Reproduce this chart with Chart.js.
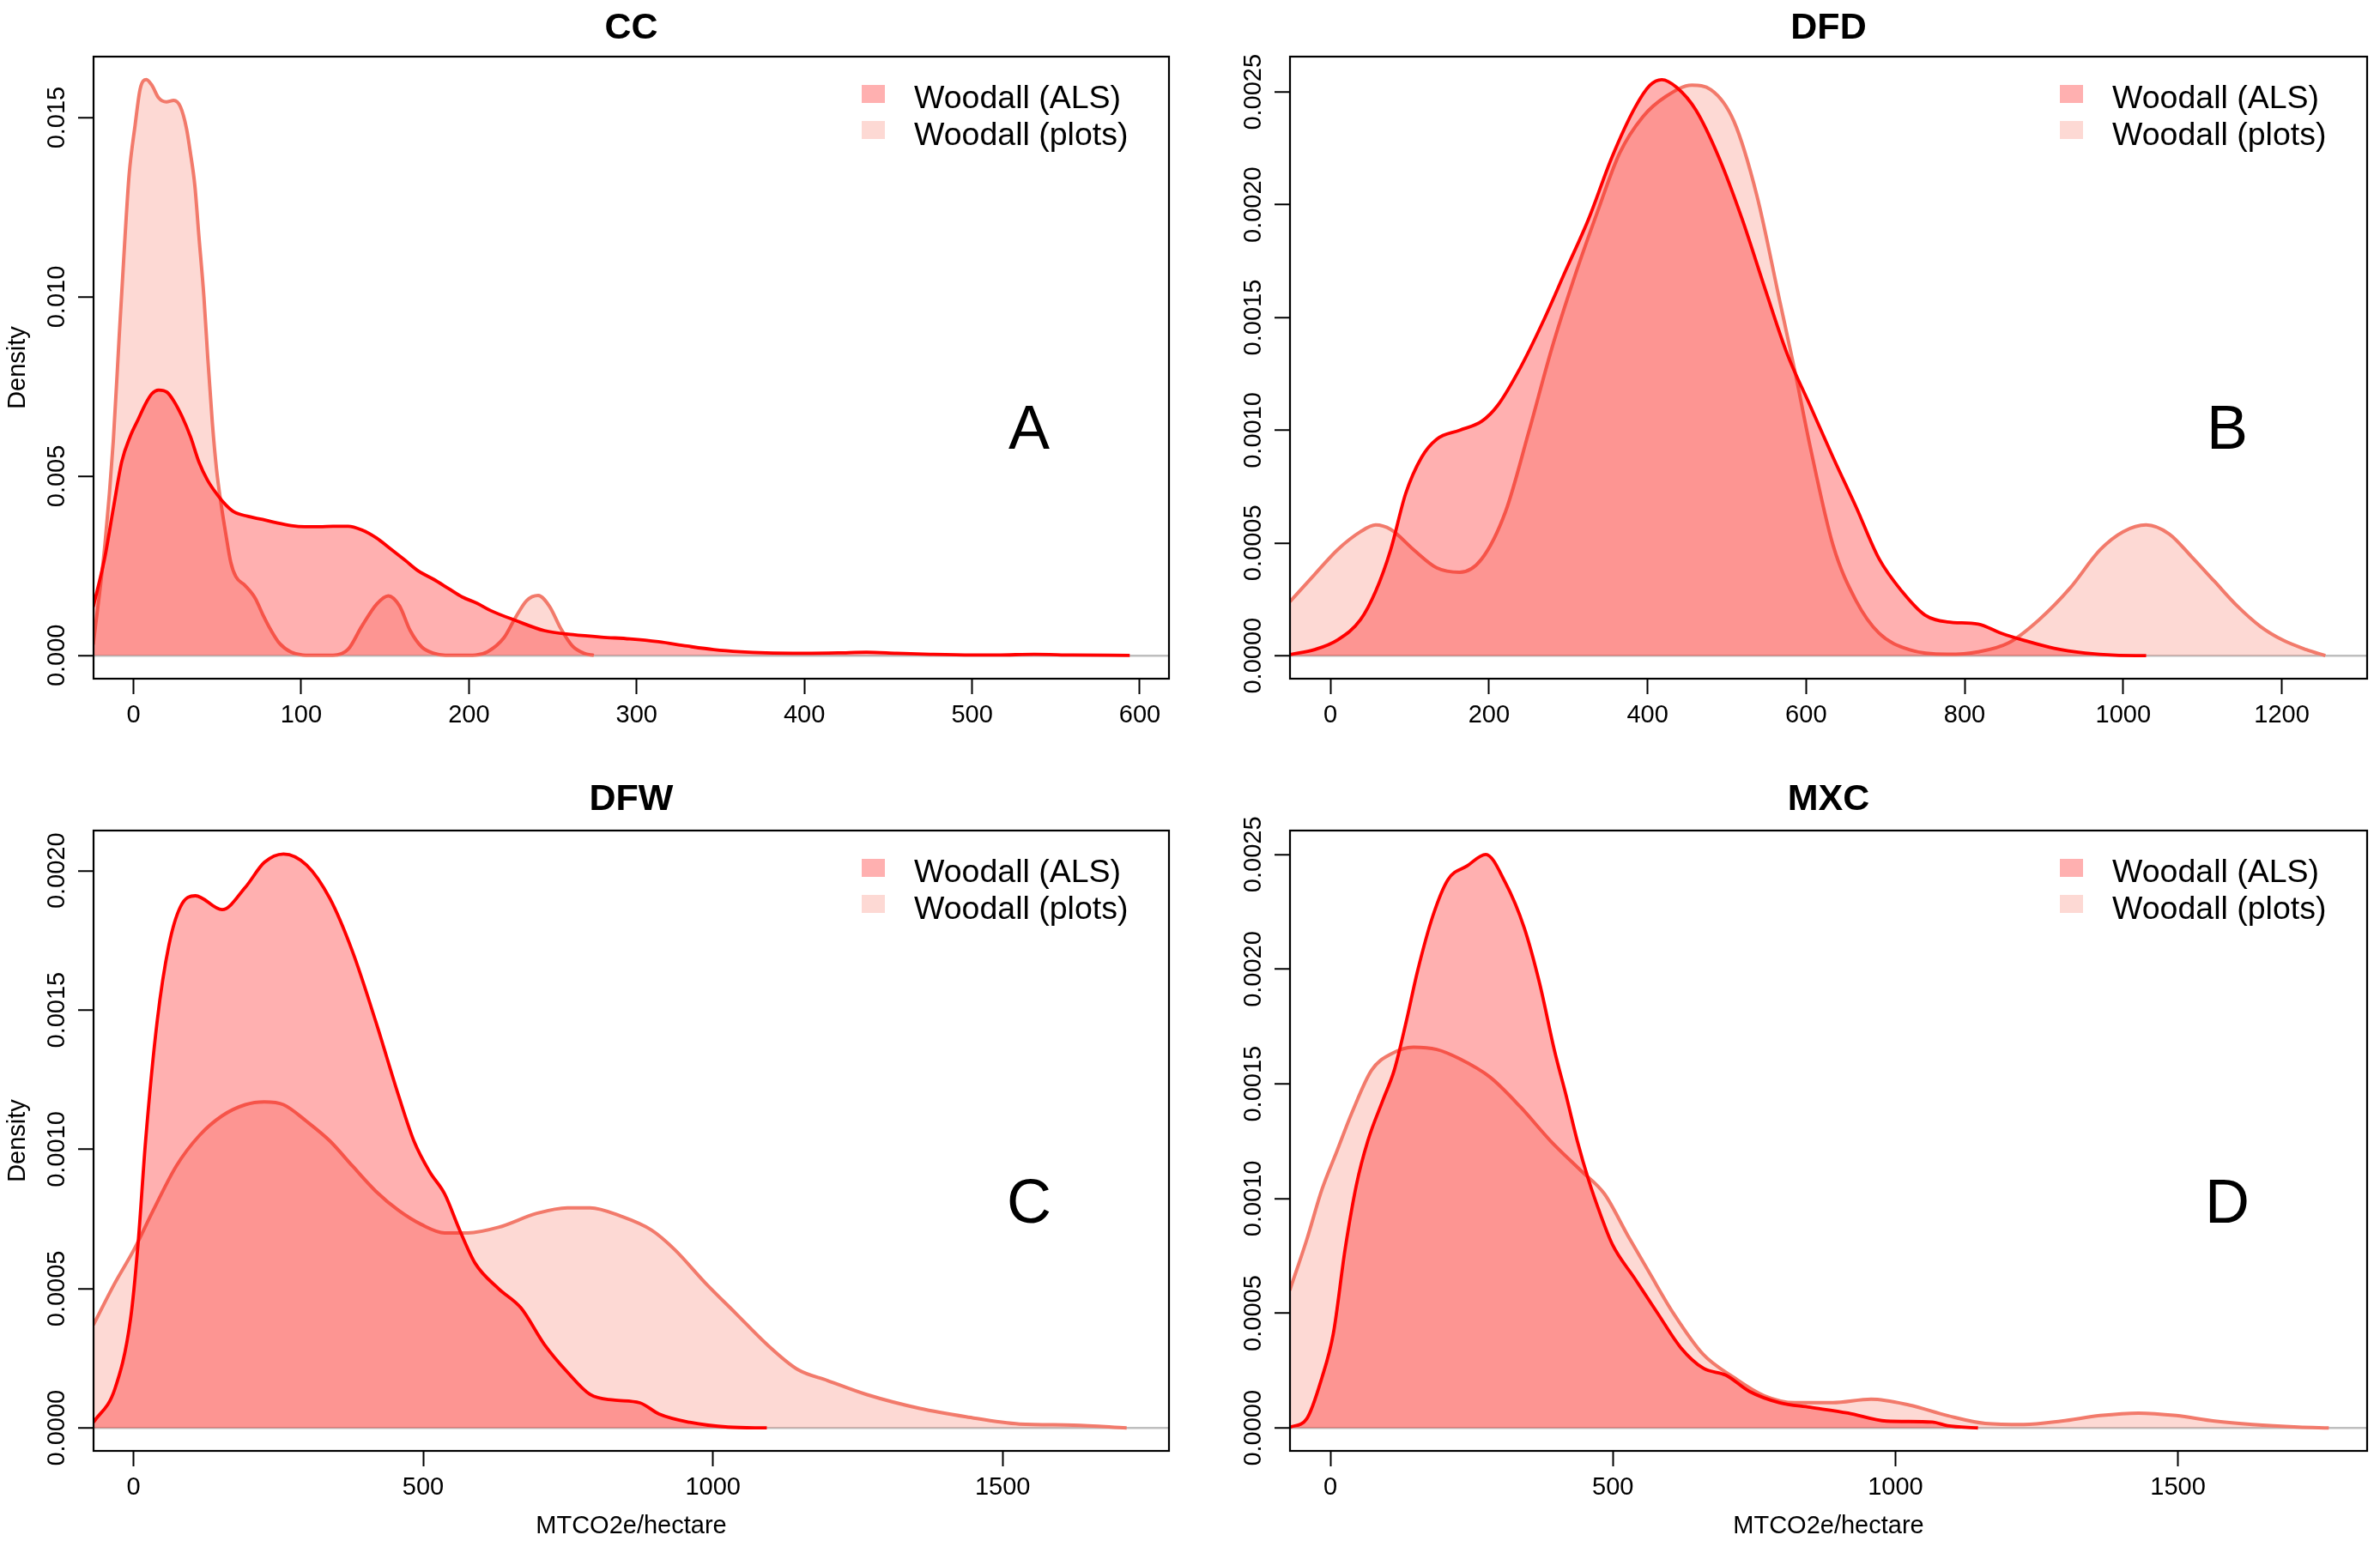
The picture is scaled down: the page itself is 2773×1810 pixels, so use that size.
<!DOCTYPE html>
<html>
<head>
<meta charset="utf-8">
<script src="https://cdn.jsdelivr.net/npm/chart.js@4.4.1/dist/chart.umd.min.js"></script>
<style>
  html, body { margin: 0; padding: 0; background: #ffffff; }
  body { width: 2773px; height: 1810px; position: relative; overflow: hidden; }
  canvas { position: absolute; }
</style>
</head>
<body>
<canvas id="cA"></canvas>
<canvas id="cB"></canvas>
<canvas id="cC"></canvas>
<canvas id="cD"></canvas>
<script>
// ---------------- DATA ----------------
const seriesLabels = ['Woodall (ALS)', 'Woodall (plots)'];
const panelTitles = ['CC', 'DFD', 'DFW', 'MXC'];
const panelLetters = ['A', 'B', 'C', 'D'];
const xAxisTitle = 'MTCO2e/hectare';
const yAxisTitle = 'Density';

// Panel A (CC)
const ccAlsX = [-24,-17,-12,-7,-2,3,7,11,15,20,24,29,34,39,44,50,55,60,68,77,85,94,102,111,119,128,136,145,153,162,170,179,188,196,205,213,228,245,262,279,296,313,330,346,362,377,400,420,437,455,475,500,515,537,560,594];
const ccAlsY = [0.00135,0.00275,0.0041,0.0054,0.0061,0.0066,0.0070,0.0073,0.0074,0.00734,0.0071,0.00666,0.0061,0.0054,0.0049,0.00448,0.0042,0.0040,0.00388,0.00379,0.0037,0.00362,0.00359,0.00359,0.0036,0.0036,0.0035,0.00327,0.00298,0.00265,0.00235,0.00212,0.00186,0.00163,0.00145,0.00125,0.00097,0.00069,0.00058,0.00051,0.00046,0.00038,0.00026,0.00016,0.0001,0.00007,0.00006,0.00007,0.00009,0.00006,0.00003,0.00001,0.00001,0.00003,0.00001,0];
const ccPlotsX = [-24,-17,-12,-8.5,-5,-2.6,1,4,7.7,11,15,19.6,24,28,31.6,34,36.6,39,42,44.3,47,49.5,52,55,58,61,66.5,72.5,77,82,87,94,101,110,119,128,136,145,152,158.6,165,172,179,186,195,204,211,221,227.7,234.5,241.3,248,255,261.7,268.5,274.5];
const ccPlotsY = [0.0003,0.0031,0.006,0.0089,0.0117,0.0134,0.0148,0.0158,0.01606,0.0159,0.01555,0.01544,0.01548,0.0153,0.0147,0.014,0.0131,0.0117,0.0100,0.0083,0.0065,0.0052,0.0043,0.0034,0.0026,0.0022,0.00195,0.0016,0.00115,0.0007,0.00034,0.00009,0.00001,0,0,0.00017,0.0008,0.00143,0.00166,0.00138,0.00069,0.00023,0.00006,0.000005,0,0.00001,0.0001,0.0005,0.00105,0.00153,0.00167,0.00137,0.00073,0.00026,0.00006,0];

// Panel B (DFD)
const dfdAlsX = [-51,-20,9,38,57,76,95,115,134,163,191,211,240,268,297,326,355,384,403,418,437,461,490,519,548,576,605,634,663,692,721,750,778,817,846,875,913,952,990,1029];
const dfdAlsY = [0.000005,0.000027,0.00007,0.00016,0.000285,0.00047,0.00072,0.00088,0.00096,0.0010,0.00104,0.00111,0.00128,0.00148,0.00171,0.00194,0.00221,0.00243,0.00253,0.002555,0.00252,0.00242,0.00221,0.00194,0.00163,0.00134,0.00111,0.00088,0.00066,0.00043,0.000285,0.00018,0.00015,0.00014,0.0001,0.000068,0.000033,0.000012,0.000002,0];
const dfdPlotsX = [-51,-20,9,38,57,76,105,134,163,191,221,250,279,307,336,365,394,423,456,480,509,538,567,586,605,634,663,692,730,778,817,856,894,933,971,1000,1029,1058,1086,1115,1144,1173,1202,1231,1255];
const dfdPlotsY = [0.00024,0.00036,0.00047,0.00055,0.00058,0.00056,0.00047,0.00039,0.00037,0.00043,0.00064,0.00099,0.00136,0.00167,0.00196,0.00223,0.00239,0.00248,0.00253,0.00251,0.00237,0.00204,0.00157,0.00126,0.00093,0.00049,0.000244,0.0001,0.000027,0.000006,0.000017,0.000058,0.00016,0.0003,0.00047,0.00055,0.00058,0.00054,0.00044,0.00033,0.00022,0.00013,0.000068,0.000027,0];

// Panel C (DFW)
const dfwAlsX = [-69,-32,-5,8,21,41,61,81,107,153,193,226,259,299,339,378,418,458,484,511,537,563,590,630,669,709,749,788,828,874,907,960,1026,1093];
const dfwAlsY = [0.00002,0.00014,0.00039,0.00066,0.00103,0.00146,0.00173,0.00187,0.00191,0.00186,0.00194,0.00203,0.00206,0.00202,0.0019,0.00171,0.00146,0.00119,0.00103,0.00092,0.00084,0.00071,0.00059,0.0005,0.00043,0.0003,0.0002,0.00012,0.0001,0.00009,0.00005,0.00002,0.000003,0];
const dfwPlotsX = [-69,-32,1,34,74,114,153,193,226,259,299,339,378,418,458,497,537,577,630,696,749,788,841,894,934,987,1040,1093,1146,1198,1265,1357,1437,1529,1622,1714];
const dfwPlotsY = [0.00037,0.00052,0.00064,0.00078,0.00094,0.00105,0.00112,0.00116,0.00117,0.00116,0.0011,0.00103,0.00094,0.00085,0.00078,0.00073,0.0007,0.0007,0.00072,0.00077,0.00079,0.00079,0.00076,0.00071,0.00064,0.00052,0.00041,0.0003,0.00021,0.00017,0.00012,0.00007,0.00004,0.000014,0.00001,0];

// Panel D (MXC)
const mxcAlsX = [-72,-42,-15,5,26,46,66,93,113,134,154,181,208,242,275,309,343,370,397,417,437,457,478,499,539,579,620,660,700,741,795,849,916,984,1065,1092,1146];
const mxcAlsY = [0.000003,0.00004,0.00022,0.00041,0.00078,0.00106,0.00125,0.00143,0.00156,0.00177,0.00199,0.00223,0.00239,0.00245,0.0025,0.00238,0.00218,0.00194,0.00164,0.00145,0.00125,0.00108,0.00093,0.0008,0.00065,0.0005,0.00035,0.00026,0.00023,0.00016,0.00011,0.00009,0.000065,0.00003,0.000026,0.00001,0];
const mxcPlotsX = [-72,-42,-15,12,39,73,107,147,188,228,282,336,390,444,485,526,566,607,660,714,768,822,889,957,1024,1092,1159,1227,1294,1362,1430,1497,1565,1632,1713,1767];
const mxcPlotsY = [0.0006,0.00082,0.00104,0.00121,0.00138,0.00156,0.00163,0.00166,0.00165,0.00161,0.00153,0.0014,0.00125,0.00112,0.00102,0.00084,0.00067,0.0005,0.00032,0.00022,0.00014,0.00011,0.00011,0.000125,0.0001,0.000054,0.00002,0.000015,0.00003,0.000054,0.000065,0.000054,0.00003,0.000015,0.000004,0];

// Axis ranges and ticks
const xMins = [-23.8, -51, -68.8, -71.6];
const xMaxs = [617.4, 1307.7, 1787, 1834.8];
const yMins = [-0.00065, -0.000102, -0.0000825, -0.0001];
const yMaxs = [0.0167, 0.002657, 0.002144, 0.002604];
const xTicksA = [0, 100, 200, 300, 400, 500, 600];
const xTicksB = [0, 200, 400, 600, 800, 1000, 1200];
const xTicksCD = [0, 500, 1000, 1500];
const yTicksA = [0, 0.005, 0.010, 0.015];
const yLabelsA = ['0.000', '0.005', '0.010', '0.015'];
const yTicksBD = [0, 0.0005, 0.0010, 0.0015, 0.0020, 0.0025];
const yLabelsBD = ['0.0000', '0.0005', '0.0010', '0.0015', '0.0020', '0.0025'];
const yTicksC = [0, 0.0005, 0.0010, 0.0015, 0.0020];
const yLabelsC = ['0.0000', '0.0005', '0.0010', '0.0015', '0.0020'];

// ---------------- STYLE / LAYOUT ----------------
const FONT = "'Liberation Sans', Arial, Helvetica, sans-serif";
const alsLine = '#FF0000';
const alsFill = 'rgba(255,0,0,0.31)';
const plotsLine = '#F27A6B';
const plotsFill = 'rgba(250,128,114,0.30)';

const panels = [
  { id: 'cA', left: 0, top: 0, w: 1386, h: 900, area: { l: 109, t: 66, r: 1362, b: 791 }, titleMid: 33,
    als: [ccAlsX, ccAlsY], plots: [ccPlotsX, ccPlotsY], xt: xTicksA, yt: yTicksA, yl: yLabelsA, showY: true, showX: false },
  { id: 'cB', left: 1386, top: 0, w: 1387, h: 900, area: { l: 117, t: 66, r: 1372, b: 791 }, titleMid: 33,
    als: [dfdAlsX, dfdAlsY], plots: [dfdPlotsX, dfdPlotsY], xt: xTicksB, yt: yTicksBD, yl: yLabelsBD, showY: false, showX: false },
  { id: 'cC', left: 0, top: 900, w: 1386, h: 910, area: { l: 109, t: 68, r: 1362, b: 791 }, titleMid: 32,
    als: [dfwAlsX, dfwAlsY], plots: [dfwPlotsX, dfwPlotsY], xt: xTicksCD, yt: yTicksC, yl: yLabelsC, showY: true, showX: true },
  { id: 'cD', left: 1386, top: 900, w: 1387, h: 910, area: { l: 117, t: 68, r: 1372, b: 791 }, titleMid: 32,
    als: [mxcAlsX, mxcAlsY], plots: [mxcPlotsX, mxcPlotsY], xt: xTicksCD, yt: yTicksBD, yl: yLabelsBD, showY: false, showX: true }
];

const TICK_LEN = 18;
const TICK_FONT = 29;
const TITLE_FONT = 43;
const measureCtx = document.createElement('canvas').getContext('2d');
function textWidth(str, size) {
  measureCtx.font = size + 'px ' + FONT;
  return measureCtx.measureText(str).width;
}

function toPoints(xs, ys) {
  return xs.map((x, i) => ({ x: x, y: ys[i] }));
}

const boxPlugin = {
  id: 'rbox',
  afterDraw(chart) {
    const a = chart.chartArea;
    const ctx = chart.ctx;
    ctx.save();
    ctx.strokeStyle = '#000000';
    ctx.lineWidth = 2.2;
    ctx.strokeRect(a.left, a.top, a.right - a.left, a.bottom - a.top);
    ctx.restore();
  }
};

const annotPlugin = {
  id: 'annot',
  afterDraw(chart, args, opts) {
    const a = chart.chartArea;
    const ctx = chart.ctx;
    ctx.save();
    // legend
    const ds = chart.data.datasets;
    ctx.font = '37.5px ' + FONT;
    ctx.textAlign = 'left';
    ctx.textBaseline = 'alphabetic';
    const boxTops = [33, 75];
    const baselines = [60, 103];
    ds.forEach((d, i) => {
      ctx.fillStyle = '#ffffff';
      ctx.fillRect(a.right - 358, a.top + boxTops[i], 27, 21);
      ctx.fillStyle = d.backgroundColor;
      ctx.fillRect(a.right - 358, a.top + boxTops[i], 27, 21);
      ctx.fillStyle = '#000000';
      ctx.fillText(d.label, a.right - 297, a.top + baselines[i]);
    });
    // panel letter
    ctx.font = '72px ' + FONT;
    ctx.textAlign = 'center';
    ctx.fillStyle = '#000000';
    ctx.fillText(opts.letter, a.right - 163, a.top + 457);
    ctx.restore();
  }
};

panels.forEach((p, idx) => {
  const cv = document.getElementById(p.id);
  cv.width = p.w; cv.height = p.h;
  cv.style.left = p.left + 'px'; cv.style.top = p.top + 'px';
  cv.style.width = p.w + 'px'; cv.style.height = p.h + 'px';

  const widest = Math.max(...p.yl.map(s => textWidth(s, TICK_FONT)));
  const yPad = 42 - TICK_LEN - widest / 2;
  const titleLineH = TITLE_FONT * 1.2;
  const titleTop = p.titleMid - titleLineH / 2;
  const titleBottom = p.area.t - titleLineH - titleTop;

  new Chart(cv, {
    type: 'line',
    data: {
      datasets: [
        { label: seriesLabels[0], data: toPoints(p.als[0], p.als[1]), borderColor: alsLine, backgroundColor: alsFill,
          borderWidth: 3.8, fill: 'origin', pointRadius: 0, cubicInterpolationMode: 'monotone' },
        { label: seriesLabels[1], data: toPoints(p.plots[0], p.plots[1]), borderColor: plotsLine, backgroundColor: plotsFill,
          borderWidth: 4, fill: 'origin', pointRadius: 0, cubicInterpolationMode: 'monotone' }
      ]
    },
    options: {
      responsive: false,
      animation: false,
      devicePixelRatio: 1,
      events: [],
      layout: { padding: { top: 0, left: 0, bottom: 0, right: p.w - p.area.r } },
      plugins: {
        legend: { display: false },
        tooltip: { enabled: false },
        title: { display: true, fullSize: false, text: panelTitles[idx], color: '#000000',
          font: { family: FONT, size: TITLE_FONT, weight: 'bold', lineHeight: 1.2 },
          padding: { top: titleTop, bottom: titleBottom } },
        annot: { letter: panelLetters[idx] }
      },
      scales: {
        x: {
          type: 'linear', min: xMins[idx], max: xMaxs[idx],
          afterBuildTicks(scale) { scale.ticks = p.xt.map(v => ({ value: v })); },
          afterFit(scale) { scale.height = p.h - p.area.b; },
          ticks: { autoSkip: false, maxRotation: 0, minRotation: 0, color: '#000000', padding: 7.6,
            font: { family: FONT, size: TICK_FONT },
            callback: (v, i) => String(p.xt[i]) },
          grid: { display: true, drawOnChartArea: false, drawTicks: true, tickLength: TICK_LEN, tickColor: '#000000', tickWidth: 2 },
          border: { display: false },
          title: { display: p.showX, text: xAxisTitle, color: '#000000', font: { family: FONT, size: 29, lineHeight: 1.2 },
            padding: { top: 0, bottom: 13.6 } }
        },
        y: {
          type: 'linear', min: yMins[idx], max: yMaxs[idx],
          afterBuildTicks(scale) { scale.ticks = p.yt.map(v => ({ value: v })); },
          afterFit(scale) { scale.width = p.area.l; },
          ticks: { autoSkip: false, minRotation: 90, maxRotation: 90, crossAlign: 'center', color: '#000000', padding: yPad,
            font: { family: FONT, size: TICK_FONT },
            callback: (v, i) => p.yl[i] },
          grid: { display: true, drawOnChartArea: true, drawTicks: true, tickLength: TICK_LEN, tickColor: '#000000', tickWidth: 2,
            color: (c) => (c.tick && c.tick.value === 0 ? '#BEBEBE' : 'rgba(0,0,0,0)'), lineWidth: 2.5 },
          border: { display: false },
          title: { display: p.showY, text: yAxisTitle, color: '#000000', font: { family: FONT, size: 29, lineHeight: 1.2 },
            padding: { top: 3.6, bottom: 0 } }
        }
      }
    },
    plugins: [boxPlugin, annotPlugin]
  });
});
</script>
</body>
</html>
